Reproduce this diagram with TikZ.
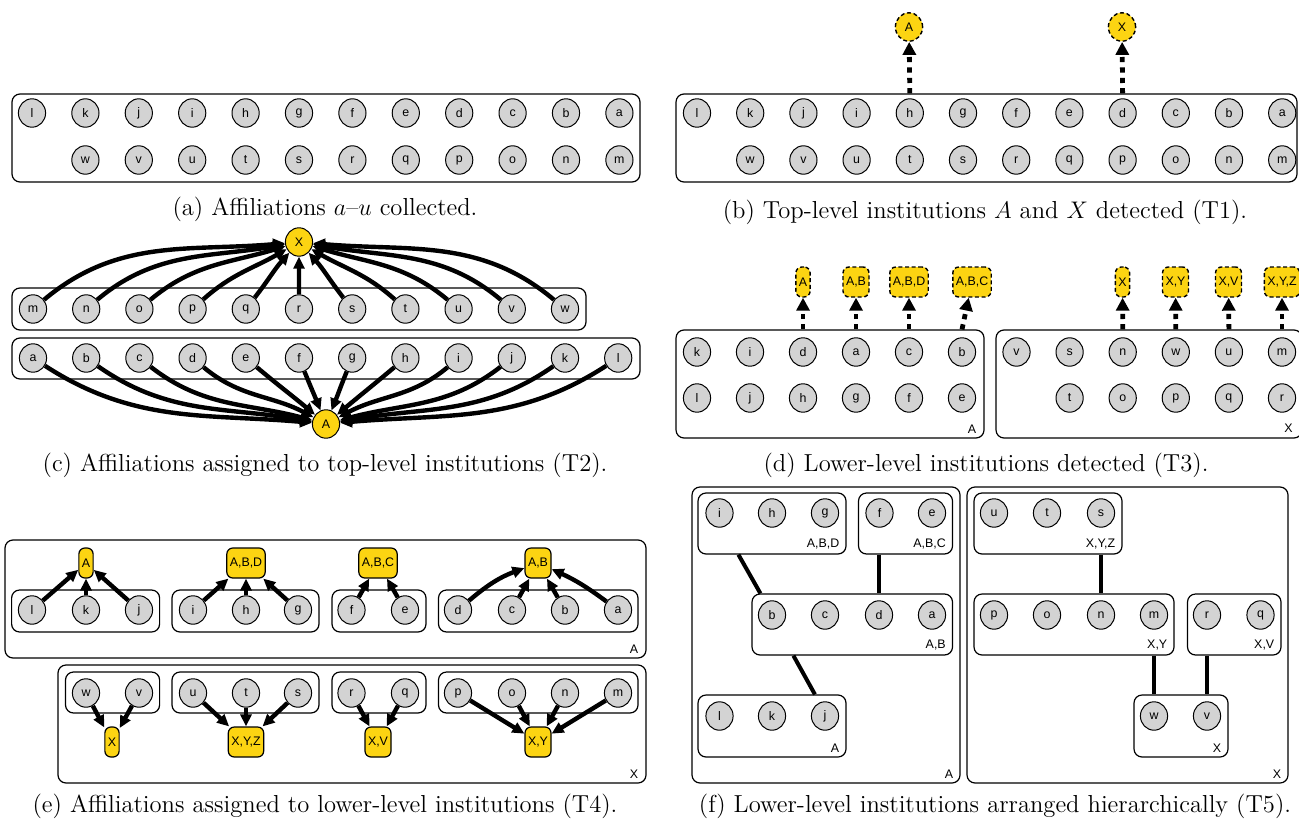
\documentclass[tikz,border=0pt]{standalone}
\usepackage{fontspec}
\newfontfamily\nf{Liberation Sans}
\usetikzlibrary{arrows.meta,shapes.geometric,fit}
\definecolor{affgray}{HTML}{D3D3D3}
\definecolor{instyel}{HTML}{FCD412}
\newcommand\nodefont{\nf\fontsize{6.2pt}{7pt}\selectfont}
\tikzset{
  aff/.style={ellipse, draw, line width=0.5pt, fill=affgray, minimum width=13.6pt, minimum height=14.2pt, inner sep=0pt, font=\nodefont},
  topi/.style={aff, fill=instyel},
  topid/.style={aff, fill=instyel, line width=0.7pt, dash pattern=on 2pt off 1.3pt},
  lowi/.style={rectangle, rounded corners=3pt, draw, line width=0.6pt, fill=instyel, minimum height=15pt, inner xsep=1.5pt, inner ysep=0pt, font=\nodefont},
  lowid/.style={lowi, line width=0.7pt, dash pattern=on 2pt off 1.3pt},
  grp/.style={draw, rounded corners=4pt, line width=0.6pt, inner sep=0pt},
  lbl/.style={font=\nodefont, inner sep=0pt, anchor=south east},
  arr/.style={line width=2.2pt, -{Triangle[length=6pt,width=5.5pt]}},
  darr/.style={line width=2.4pt, dash pattern=on 2.6pt off 2.6pt, -{Triangle[length=6.5pt,width=6.5pt]}},
  hlink/.style={line width=2pt},
  captext/.style={font=\fontsize{12.3pt}{14pt}\selectfont, inner sep=0pt}
}
\begin{document}
\begin{tikzpicture}[x=0.5pt,y=0.5pt]
\useasboundingbox (0,0) rectangle (1299,-824);

% ---------------- (a)
\node[grp, fit={(12,-94) (640,-182)}] (aBox) {};
\foreach \lt [count=\i from 0] in {l,k,j,i,h,g,f,e,d,c,b,a}
  \node[aff] (a\lt) at ({32+53.4*\i},-113) {\lt};
\foreach \lt [count=\i from 1] in {w,v,u,t,s,r,q,p,o,n,m}
  \node[aff] (a\lt) at ({32+53.4*\i},-160) {\lt};
\node[captext] (capa) at (325,-209) {(a) Affiliations $a$--$u$ collected.};

% ---------------- (b)
\node[grp, fit={(676,-94) (1297,-182)}] (bBox) {};
\foreach \lt [count=\i from 0] in {l,k,j,i,h,g,f,e,d,c,b,a}
  \node[aff] (b\lt) at ({697+53.2*\i},-113) {\lt};
\foreach \lt [count=\i from 1] in {w,v,u,t,s,r,q,p,o,n,m}
  \node[aff] (b\lt) at ({697+53.2*\i},-160) {\lt};
\node[topid] (bA) at (909,-27) {A};
\node[topid] (bX) at (1122,-27) {X};
\draw[darr] (bBox.north -| bh) -- (bA);
\draw[darr] (bBox.north -| bd) -- (bX);
\node[captext] (capb) at (985,-212) {(b) Top-level institutions $A$ and $X$ detected (T1).};

% ---------------- (c)
\node[grp, fit={(12,-288) (586,-330)}] (cBoxX) {};
\node[grp, fit={(12,-338) (640,-379)}] (cBoxA) {};
\foreach \lt [count=\i from 0] in {m,n,o,p,q,r,s,t,u,v,w}
  \node[aff] (c\lt) at ({33+53.2*\i},-309) {\lt};
\foreach \lt [count=\i from 0] in {a,b,c,d,e,f,g,h,i,j,k,l}
  \node[aff] (c\lt) at ({33+53.2*\i},-358) {\lt};
\node[topi] (cX) at (299,-242) {X};
\node[topi] (cA) at (326,-424) {A};
\foreach \src/\o/\ii in {m/40/185, n/40/190, o/40/197, p/42/210, q/52/228, s/128/312, t/138/330, u/140/343, v/140/350, w/140/355}
  \draw[arr] (c\src) to[out=\o,in=\ii] (cX);
\draw[arr] (cr) -- (cX);
\foreach \src/\o/\ii in {a/-33/175, b/-35/170, c/-38/165, d/-40/152, e/-40/140, f/-68/112, g/-112/68, h/-140/40, i/-140/28, j/-142/15, k/-145/10, l/-147/5}
  \draw[arr] (c\src) to[out=\o,in=\ii] (cA);
\node[captext] (capc) at (325,-465) {(c) Affiliations assigned to top-level institutions (T2).};

% ---------------- (d)
\node[grp, fit={(676,-330) (984,-438)}] (dBoxA) {};
\node[grp, fit={(996,-330) (1302,-438)}] (dBoxX) {};
\foreach \lt [count=\i from 0] in {k,i,d,a,c,b}
  \node[aff] (d\lt) at ({697+53*\i},-352) {\lt};
\foreach \lt [count=\i from 0] in {l,j,h,g,f,e}
  \node[aff] (d\lt) at ({697+53*\i},-398) {\lt};
\foreach \lt [count=\i from 0] in {v,s,n,w,u,m}
  \node[aff] (d\lt) at ({1016.5+53.1*\i},-352) {\lt};
\foreach \lt [count=\i from 1] in {t,o,p,q,r}
  \node[aff] (d\lt) at ({1016.5+53.1*\i},-398) {\lt};
\node[lowid] (dtA) at (803,-282) {A};
\node[lowid] (dtAB) at (856,-282) {A,B};
\node[lowid] (dtABD) at (909,-282) {A,B,D};
\node[lowid] (dtABC) at (972,-282) {A,B,C};
\node[lowid] (dtX) at (1122.5,-282) {X};
\node[lowid] (dtXY) at (1175.5,-282) {X,Y};
\node[lowid] (dtXV) at (1228.5,-282) {X,V};
\node[lowid] (dtXYZ) at (1282,-282) {X,Y,Z};
\draw[darr] (dBoxA.north -| dd) -- (dtA);
\draw[darr] (dBoxA.north -| da) -- (dtAB);
\draw[darr] (dBoxA.north -| dc) -- (dtABD);
\draw[darr] (dBoxA.north -| db) -- (dtABC);
\draw[darr] (dBoxX.north -| dn) -- (dtX);
\draw[darr] (dBoxX.north -| dw) -- (dtXY);
\draw[darr] (dBoxX.north -| du) -- (dtXV);
\draw[darr] (dBoxX.north -| dm) -- (dtXYZ);
\node[lbl] (dlA) at ([xshift=-4pt,yshift=2.5pt]dBoxA.south east) {A};
\node[lbl] (dlX) at ([xshift=-2pt,yshift=2.5pt]1297,-438) {X};
\node[captext] (capd) at (986,-465) {(d) Lower-level institutions detected (T3).};

% ---------------- (e)
\node[grp, fit={(5,-540) (646,-658)}] (eBoxA) {};
\node[grp, fit={(58,-665) (646,-783)}] (eBoxX) {};
\node[grp, fit={(11.6,-590) (159.6,-632)}] (eg1) {};
\node[grp, fit={(172,-590) (319,-632)}] (eg2) {};
\node[grp, fit={(332,-590) (426,-632)}] (eg3) {};
\node[grp, fit={(438.5,-590) (638,-632)}] (eg4) {};
\node[grp, fit={(65.5,-672) (159.6,-713)}] (eg5) {};
\node[grp, fit={(172,-672) (319,-713)}] (eg6) {};
\node[grp, fit={(332,-672) (426,-713)}] (eg7) {};
\node[grp, fit={(438.5,-672) (638,-713)}] (eg8) {};
\foreach \lt/\xx in {l/32,k/86,j/139,i/193,h/246,g/298,f/351.5,e/405,d/458,c/512,b/565,a/618}
  \node[aff] (e\lt) at (\xx,-610) {\lt};
\foreach \lt/\xx in {w/86,v/139,u/193,t/246,s/298,r/351.5,q/405,p/458,o/512,n/565,m/618}
  \node[aff] (e\lt) at (\xx,-693) {\lt};
\node[lowi] (eA) at (86,-563) {A};
\node[lowi] (eABD) at (246,-563) {A,B,D};
\node[lowi] (eABC) at (378,-563) {A,B,C};
\node[lowi] (eAB) at (538,-563) {A,B};
\node[lowi] (eX) at (112,-742) {X};
\node[lowi] (eXYZ) at (246,-742) {X,Y,Z};
\node[lowi] (eXV) at (378,-742) {X,V};
\node[lowi] (eXY) at (538,-742) {X,Y};
\foreach \src in {l,k,j} \draw[arr] (e\src) -- (eA);
\foreach \src in {i,h,g} \draw[arr] (e\src) -- (eABD);
\foreach \src in {f,e} \draw[arr] (e\src) -- (eABC);
\foreach \src in {c,b} \draw[arr] (e\src) -- (eAB);
\draw[arr] (ed) to[bend left=10] (eAB);
\draw[arr] (ea) to[bend right=6] (eAB);
\foreach \src in {w,v} \draw[arr] (e\src) -- (eX);
\foreach \src in {u,t,s} \draw[arr] (e\src) -- (eXYZ);
\foreach \src in {r,q} \draw[arr] (e\src) -- (eXV);
\foreach \src in {p,o,n,m} \draw[arr] (e\src) -- (eXY);
\node[lbl] (elA) at ([xshift=-4pt,yshift=2.5pt]eBoxA.south east) {A};
\node[lbl] (elX) at ([xshift=-4pt,yshift=2.5pt]eBoxX.south east) {X};
\node[captext] (cape) at (325,-806) {(e) Affiliations assigned to lower-level institutions (T4).};

% ---------------- (f)
\node[grp, fit={(692,-487) (960,-783)}] (fBoxA) {};
\node[grp, fit={(967,-487) (1288,-783)}] (fBoxX) {};
\node[grp, fit={(698,-493) (846,-554)}] (fbABD) {};
\node[grp, fit={(858.5,-493) (952.5,-554)}] (fbABC) {};
\node[grp, fit={(752,-594) (952.5,-655)}] (fbAB) {};
\node[grp, fit={(698,-695) (846,-757)}] (fbA) {};
\node[grp, fit={(974,-493) (1122,-554)}] (fbXYZ) {};
\node[grp, fit={(974,-594) (1174,-655)}] (fbXY) {};
\node[grp, fit={(1187.5,-594) (1281,-655)}] (fbXV) {};
\node[grp, fit={(1134,-695) (1228,-757)}] (fbX) {};
\foreach \lt/\xx in {i/719.5,h/772,g/825,f/879.5,e/932}
  \node[aff] (f\lt) at (\xx,-513) {\lt};
\foreach \lt/\xx in {b/772,c/825,d/879,a/932}
  \node[aff] (f\lt) at (\xx,-615) {\lt};
\foreach \lt/\xx in {l/719.5,k/772,j/825}
  \node[aff] (f\lt) at (\xx,-716) {\lt};
\foreach \lt/\xx in {u/994,t/1047,s/1101}
  \node[aff] (f\lt) at (\xx,-513) {\lt};
\foreach \lt/\xx in {p/994,o/1047,n/1101,m/1154,r/1207,q/1260.5}
  \node[aff] (f\lt) at (\xx,-615) {\lt};
\foreach \lt/\xx in {w/1154,v/1207}
  \node[aff] (f\lt) at (\xx,-716) {\lt};
\foreach \bx/\tx in {fbABD/{A,B,D},fbABC/{A,B,C},fbAB/{A,B},fbA/A,fbXYZ/{X,Y,Z},fbXY/{X,Y},fbXV/{X,V},fbX/X,fBoxA/A,fBoxX/X}
  \node[lbl] (l\bx) at ([xshift=-3.5pt,yshift=2.5pt]\bx.south east) {\tx};
\draw[hlink] ([xshift=20.5pt]fbABD.south west) -- ([xshift=4.5pt]fbAB.north west);
\draw[hlink] (fbABC.south -| fd) -- (fbAB.north -| fd);
\draw[hlink] ([xshift=21pt]fbAB.south west) -- ([xshift=58.75pt]fbA.north west);
\draw[hlink] (fbXYZ.south -| fn) -- (fbXY.north -| fn);
\draw[hlink] (fbXY.south -| fm) -- (fbX.north -| fm);
\draw[hlink] (fbXV.south -| fr) -- (fbX.north -| fr);
\node[captext] (capf) at (995,-806) {(f) Lower-level institutions arranged hierarchically (T5).};
\end{tikzpicture}
\end{document}
